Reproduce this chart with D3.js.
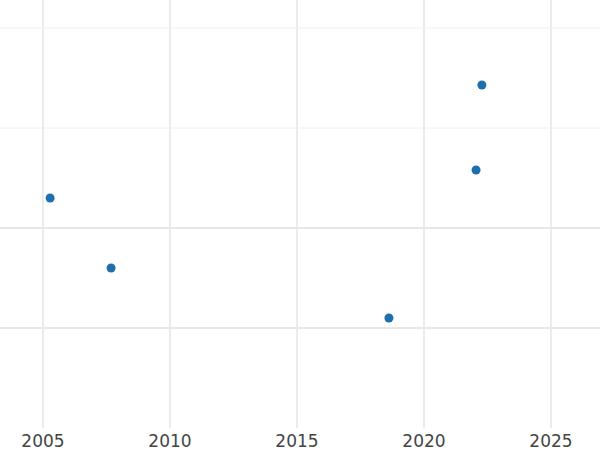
<!DOCTYPE html>
<html>
<head>
<meta charset="utf-8">
<script src="https://cdn.jsdelivr.net/npm/d3@7"></script>
<style>
  body { margin: 0; background: #fff; }
  text { font-family: "DejaVu Sans", sans-serif; }
</style>
</head>
<body>
<svg id="chart" width="600" height="450"></svg>
<script>
// data
var years = [2005.28, 2007.68, 2018.62, 2022.05, 2022.28];
var values = [2.30, 1.60, 1.10, 2.58, 3.43];
var xTicks = [2005, 2010, 2015, 2020, 2025];
var yTicks = [1, 2, 3, 4];

var svg = d3.select("#chart");
var x = d3.scaleLinear().domain([2003.307, 2026.93]).range([0, 600]);
var y = d3.scaleLinear().domain([0, 4.28]).range([428, 0]);

svg.selectAll("line.v").data(xTicks).enter().append("line")
    .attr("x1", function(d) { return x(d); }).attr("x2", function(d) { return x(d); })
    .attr("y1", 0).attr("y2", 428)
    .attr("stroke", "#ebebeb").attr("stroke-width", 2);

svg.selectAll("line.h").data(yTicks).enter().append("line")
    .attr("x1", 0).attr("x2", 600)
    .attr("y1", function(d) { return y(d); }).attr("y2", function(d) { return y(d); })
    .attr("stroke", function(d) { return d <= 2 ? "#e8e8e8" : "#f0f0f0"; })
    .attr("stroke-width", function(d) { return d <= 2 ? 2 : 1; });

svg.selectAll("text.xt").data(xTicks).enter().append("text")
    .attr("x", function(d) { return x(d); }).attr("y", 447)
    .attr("text-anchor", "middle").attr("font-size", 17).attr("fill", "#444")
    .text(function(d) { return d; });

svg.selectAll("circle").data(years).enter().append("circle")
    .attr("cx", function(d) { return x(d); })
    .attr("cy", function(d, i) { return y(values[i]); })
    .attr("r", 4.5).attr("fill", "#1f6fad");
</script>
</body>
</html>
